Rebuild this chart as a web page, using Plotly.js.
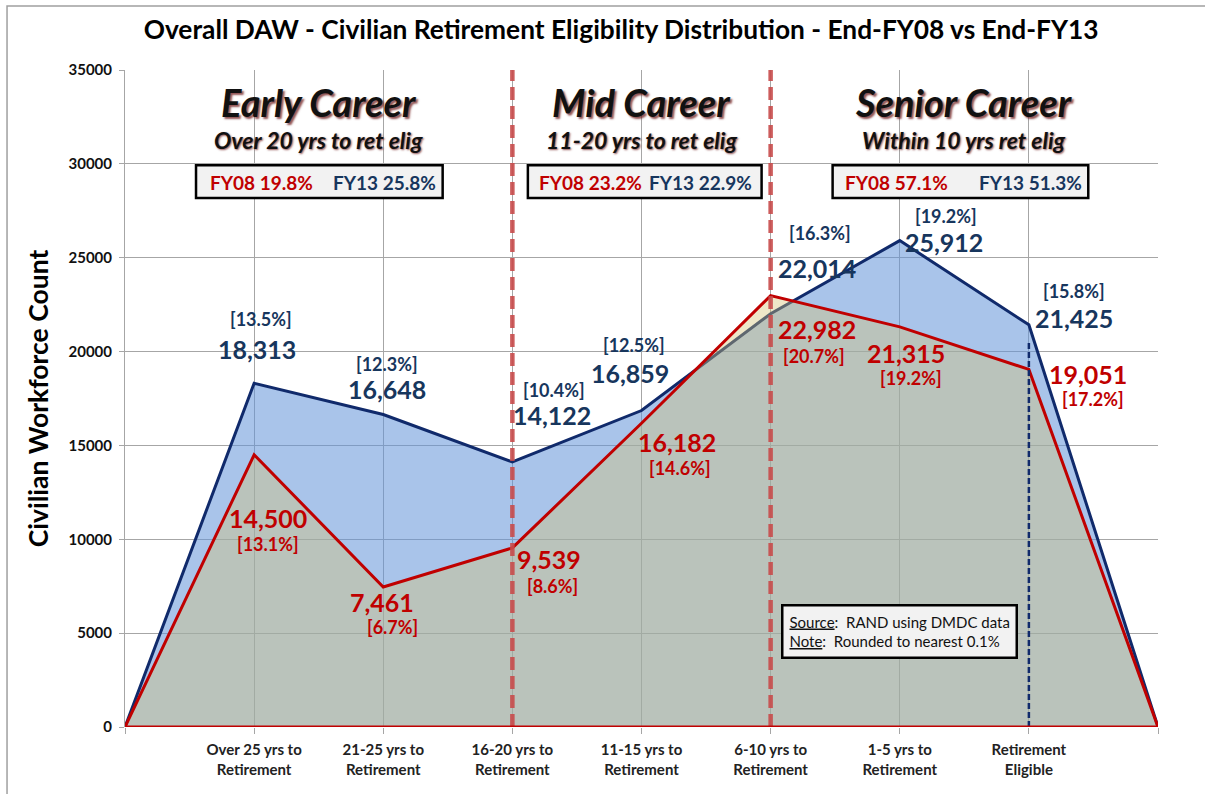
<!DOCTYPE html>
<html>
<head>
<meta charset="utf-8">
<script src="https://cdn.plot.ly/plotly-3.0.1.min.js"></script>
<style>html,body{margin:0;padding:0;background:#fff;}</style>
</head>
<body>
<div id="chart" style="width:1205px;height:794px;"></div>
<script>
// ---------- DATA ----------
const positions = [0, 1, 2, 3, 4, 5, 6, 7, 8];
const categoryLabels = ['', 'Over 25 yrs to<br>Retirement', '21-25 yrs to<br>Retirement', '16-20 yrs to<br>Retirement',
  '11-15 yrs to<br>Retirement', '6-10 yrs to<br>Retirement', '1-5 yrs to<br>Retirement', 'Retirement<br>Eligible', ''];
const fy08Counts = [0, 14500, 7461, 9539, 16182, 22982, 21315, 19051, 0];
const fy13Counts = [0, 18313, 16648, 14122, 16859, 22014, 25912, 21425, 0];
const fy08Pct = [null, '13.1%', '6.7%', '8.6%', '14.6%', '20.7%', '19.2%', '17.2%', null];
const fy13Pct = [null, '13.5%', '12.3%', '10.4%', '12.5%', '16.3%', '19.2%', '15.8%', null];
const careerNames = ['Early Career', 'Mid Career', 'Senior Career'];
const careerSubtitles = ['Over 20 yrs to ret elig', '11-20 yrs to ret elig', 'Within 10 yrs ret elig'];
const careerFY08 = ['19.8%', '23.2%', '57.1%'];
const careerFY13 = ['25.8%', '22.9%', '51.3%'];
const careerBounds = [[0, 3], [3, 5], [5, 8]];
const titleText = 'Overall DAW - Civilian Retirement Eligibility Distribution - End-FY08 vs End-FY13';
const yTitleText = 'Civilian Workforce Count';

// ---------- STYLE / LAYOUT OFFSETS ----------
const FONT = 'Lato, "Open Sans", sans-serif';
const NAVY = '#102a6b';
const NAVY_TXT = '#17365d';
const RED = '#c00000';
// label offsets in pixels [xshift, yshift] for value and percent labels
const fy13ValOff = [null, [3, 34], [4, 25], [40, 47], [-12, 38], [46, 46], [44, -1], [45, 7], null];
const fy13PctOff = [null, [7, 64], [4, 50], [42, 72], [-8, 66], [49, 81], [46, 25], [45, 34], null];
const fy08ValOff = [null, [14, -63], [-1, -15], [37, -11], [35, -19], [46, -33], [6, -26], [59, -5], null];
const fy08PctOff = [null, [14, -89], [9, -40], [40, -38], [38, -45], [43, -60], [11, -51], [64, -30], null];
// summary boxes (x in data units, shared y in paper units)
const boxX = [[0.55, 2.46], [3.12, 4.93], [5.48, 7.46]];
const boxFY08Left = [0.645, 3.19, 5.56];
const boxFY13Right = [2.424, 4.87, 7.43];

const fmt = v => v.toLocaleString('en-US');

const traces = [
  {
    x: positions, y: fy13Counts, type: 'scatter', mode: 'lines', name: 'End-FY13',
    line: {color: NAVY, width: 3}, fill: 'tozeroy', fillcolor: 'rgba(99,148,217,0.55)',
    hoverinfo: 'skip'
  },
  {
    x: positions, y: fy08Counts, type: 'scatter', mode: 'lines', name: 'End-FY08',
    line: {color: RED, width: 3}, fill: 'tozeroy', fillcolor: 'rgba(212,196,117,0.4)',
    hoverinfo: 'skip'
  }
];

const annotations = [];
function lab(x, y, text, off, size, color) {
  annotations.push({x: x, y: y, xref: 'x', yref: 'y', showarrow: false, xanchor: 'center', yanchor: 'middle',
    text: text, xshift: off[0], yshift: off[1],
    font: {family: FONT, size: size, color: color, weight: 'bold'}});
}
positions.forEach((p, i) => {
  if (fy13Pct[i] === null) return;
  lab(p, fy13Counts[i], fmt(fy13Counts[i]), fy13ValOff[i], 25, NAVY_TXT);
  lab(p, fy13Counts[i], '[' + fy13Pct[i] + ']', fy13PctOff[i], 18, NAVY_TXT);
  lab(p, fy08Counts[i], fmt(fy08Counts[i]), fy08ValOff[i], 25, RED);
  lab(p, fy08Counts[i], '[' + fy08Pct[i] + ']', fy08PctOff[i], 18, RED);
});

const shapes = [];
careerBounds.forEach((b, k) => {
  const cx = (b[0] + b[1]) / 2;
  annotations.push({x: cx, y: 0.951, xref: 'x', yref: 'paper', showarrow: false, xanchor: 'center', yanchor: 'middle',
    text: careerNames[k],
    font: {family: FONT, size: 38, color: '#111111', weight: 'bold', style: 'italic',
      shadow: '2px 2px 2px rgba(110,25,25,0.75)'}});
  annotations.push({x: cx, y: 0.8935, xref: 'x', yref: 'paper', showarrow: false, xanchor: 'center', yanchor: 'middle',
    text: careerSubtitles[k],
    font: {family: FONT, size: 23, color: '#111111', weight: 'bold', style: 'italic',
      shadow: '1px 1px 2px rgba(110,25,25,0.75)'}});
  shapes.push({type: 'rect', xref: 'x', yref: 'paper', x0: boxX[k][0], x1: boxX[k][1],
    y0: 0.805, y1: 0.855, fillcolor: '#f2f2f2', line: {color: '#000000', width: 2.5}, layer: 'above'});
  annotations.push({x: boxFY08Left[k], y: 0.8295, xref: 'x', yref: 'paper', showarrow: false,
    xanchor: 'left', yanchor: 'middle', text: 'FY08 ' + careerFY08[k],
    font: {family: FONT, size: 19, color: RED, weight: 'bold'}});
  annotations.push({x: boxFY13Right[k], y: 0.8295, xref: 'x', yref: 'paper', showarrow: false,
    xanchor: 'right', yanchor: 'middle', text: 'FY13 ' + careerFY13[k],
    font: {family: FONT, size: 19, color: NAVY_TXT, weight: 'bold'}});
});

// Source / note box
annotations.push({x: 6.0, y: 0.146, xref: 'x', yref: 'paper', showarrow: false, align: 'left',
  xanchor: 'center', yanchor: 'middle',
  text: '<span style="text-decoration:underline">Source</span>:  RAND using DMDC data<br>' +
        '<span style="text-decoration:underline">Note</span>:  Rounded to nearest 0.1%',
  font: {family: FONT, size: 15, color: '#111111'},
  bgcolor: '#f2f2f2', bordercolor: '#000000', borderwidth: 2.5, borderpad: 6});

// vertical dashed dividers
[3, 5].forEach(xv => shapes.push({type: 'line', xref: 'x', yref: 'paper', x0: xv, x1: xv, y0: 0, y1: 1,
  line: {color: 'rgba(200,75,75,0.9)', width: 4.5, dash: '13px,6px'}, layer: 'above'}));
shapes.push({type: 'line', xref: 'x', yref: 'y', x0: 7, x1: 7, y0: 0, y1: 20500,
  line: {color: NAVY, width: 2.5, dash: '6px,3px'}, layer: 'above'});
// red baseline of FY08 area
shapes.push({type: 'line', xref: 'x', yref: 'y', x0: 0, x1: 8, y0: 0, y1: 0,
  line: {color: RED, width: 3}, layer: 'above'});
// outer chart border (left + top)
shapes.push({type: 'rect', xref: 'paper', yref: 'paper', x0: -0.1142, x1: 1.2, y0: -0.3, y1: 1.0974,
  line: {color: '#a0a0a0', width: 1.5}, fillcolor: 'rgba(0,0,0,0)', layer: 'below'});

const layout = {
  width: 1205, height: 794,
  margin: {l: 125, r: 47, t: 70, b: 67},
  paper_bgcolor: '#ffffff', plot_bgcolor: '#ffffff',
  showlegend: false,
  title: {text: titleText, x: 0.5154, xanchor: 'center', xref: 'container', y: 0.962, yanchor: 'middle',
    font: {family: FONT, size: 26.3, color: '#000000', weight: 'bold'}},
  xaxis: {range: [0, 8], tickvals: positions, ticktext: categoryLabels, showgrid: true,
    gridcolor: '#a6a6a6', gridwidth: 1, zeroline: false, showline: false,
    ticks: 'outside', ticklen: 6, tickcolor: '#a6a6a6', ticklabelstandoff: 3,
    tickfont: {family: FONT, size: 15, color: '#222222', weight: 'bold'}, fixedrange: true},
  yaxis: {range: [0, 35000], dtick: 5000, tickformat: 'd', showgrid: true, gridcolor: '#a6a6a6', gridwidth: 1,
    zeroline: false, showline: true, linecolor: '#a6a6a6', linewidth: 1,
    ticks: 'outside', ticklen: 5, tickcolor: '#a6a6a6', ticklabelstandoff: 4,
    tickfont: {family: FONT, size: 15, color: '#111111', weight: 'bold'},
    title: {text: yTitleText, standoff: 12, font: {family: FONT, size: 26.5, color: '#000000', weight: 'bold'}},
    fixedrange: true},
  shapes: shapes,
  annotations: annotations
};

Plotly.newPlot('chart', traces, layout, {displayModeBar: false, staticPlot: true});
</script>
</body>
</html>
